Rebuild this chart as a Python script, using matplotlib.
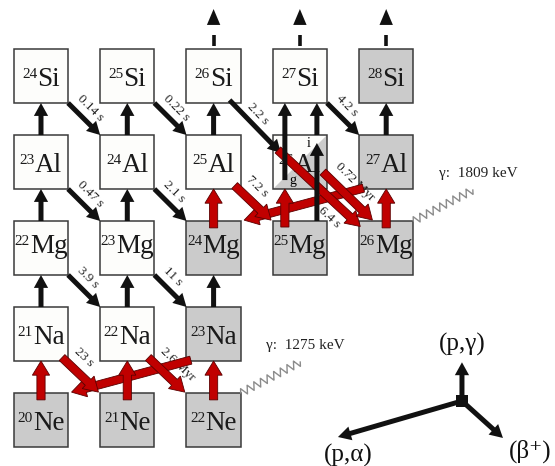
import matplotlib.pyplot as plt
import numpy as np
from matplotlib.patches import Rectangle, Polygon

plt.rcParams['font.family'] = ['Liberation Serif', 'DejaVu Serif']

# ---- chart content ----
elements = ["Ne", "Na", "Mg", "Al", "Si"]
charges = [10, 11, 12, 13, 14]
ne_mass = [20, 21, 22]
na_mass = [21, 22, 23]
mg_mass = [22, 23, 24, 25, 26]
al_mass = [23, 24, 25, 26, 27]
si_mass = [24, 25, 26, 27, 28]
masses = [ne_mass, na_mass, mg_mass, al_mass, si_mass]
stable = ["20Ne", "21Ne", "22Ne", "23Na", "24Mg", "25Mg", "26Mg", "27Al", "28Si"]

# (p,gamma) captures, named by target nucleus
pg_black = ["21Na", "22Na", "23Na", "22Mg", "23Mg", "23Al", "24Al", "25Al", "27Al"]
pg_red = ["20Ne", "21Ne", "22Ne", "24Mg", "26Mg"]
pg_open = ["26Si", "27Si", "28Si"]  # leaving the chart (dashed)

# beta+ decays and half-lives
beta_black = ["24Si", "25Si", "27Si", "23Al", "24Al", "22Mg", "23Mg"]
beta_black_t = ["0.14 s", "0.22 s", "4.2 s", "0.47 s", "2.1 s", "3.9 s", "11 s"]
beta_red = ["21Na", "22Na", "25Al"]
beta_red_t = ["23 s", "2.6 Myr", "7.2 s"]

# (p,alpha) closing the NeNa and MgAl cycles
pa_red = ["23Na", "27Al"]

# 26Al: ground state g and isomer i
al26_g_t = "0.72 Myr"
al26_i_t = "6.4 s"
si26_t = "2.2 s"

gamma_src = ["22Ne", "26Mg"]
gamma_kev = [1275, 1809]

legend_labels = ["(p,γ)", "(p,α)", "(β\u207a)"]

# ---- helpers ----
H = 0.314  # half box size (cell = 1)
BLACK = dict(width=0.058, head_width=0.165, head_length=0.15,
             length_includes_head=True, fc='#111111', ec='#111111', lw=0)
RED = dict(width=0.095, head_width=0.2, head_length=0.165,
           length_includes_head=True, fc='#c00000', ec='#5a0000', lw=0.6)


def nz(name):
    a = int(name[:-2])
    z = charges[elements.index(name[-2:])]
    return a - z, z


def arrow(p0, p1, style, z=4):
    ax.arrow(p0[0], p0[1], p1[0] - p0[0], p1[1] - p0[1], zorder=z, **style)


def tag(p0, p1, txt, along, perp, va='bottom'):
    p0 = np.array(p0, float)
    d = np.array(p1, float) - p0
    u = d / np.hypot(*d)
    n = np.array([-u[1], u[0]])
    pos = p0 + along * u + perp * n
    ang = np.degrees(np.arctan2(u[1], u[0]))
    ax.text(pos[0], pos[1], txt, fontsize=9.5, rotation=ang, rotation_mode='anchor',
            ha='left', va=va, color='#222222', zorder=3)


fig = plt.figure(figsize=(5.55, 4.66), dpi=100)
ax = fig.add_axes([0, 0, 1, 1])
ax.set_xlim(9.525, 15.956)
ax.set_ylim(9.465, 14.884)
ax.axis('off')

# ---- boxes ----
for el, z, alist in zip(elements, charges, masses):
    for a in alist:
        name = f"{a}{el}"
        n = a - z
        if name == "26Al":
            ax.add_patch(Polygon([(n - H, z + H), (n + H, z + H), (n - H, z - H)],
                                 fc='#fdfdfb', ec='none', zorder=1))
            ax.add_patch(Polygon([(n + H, z + H), (n + H, z - H), (n - H, z - H)],
                                 fc='#cbcbcb', ec='none', zorder=1))
            ax.add_patch(Rectangle((n - H, z - H), 2 * H, 2 * H, fc='none',
                                   ec='#3a3a3a', lw=1.1, zorder=1.5))
        else:
            fc = '#cbcbcb' if name in stable else '#fdfdfb'
            ax.add_patch(Rectangle((n - H, z - H), 2 * H, 2 * H, fc=fc,
                                   ec='#3a3a3a', lw=1.1, zorder=1))

# nuclide labels: superscript mass number + symbol, centred in the box
fig.canvas.draw()
rend = fig.canvas.get_renderer()
ppu = ax.transData.transform((1, 0))[0] - ax.transData.transform((0, 0))[0]
for el, z, alist in zip(elements, charges, masses):
    for a in alist:
        n = a - z
        base = z - (0.06 if 'g' in el else 0.12)
        ts = ax.text(n, base + 0.1, str(a), fontsize=11, ha='left', va='baseline',
                     color='#1a1a1a', zorder=2)
        te = ax.text(n, base, el, fontsize=19.5, ha='left', va='baseline',
                     color='#1a1a1a', zorder=2)
        ws = ts.get_window_extent(rend).width / ppu
        we = te.get_window_extent(rend).width / ppu
        x0 = n - (ws + we) / 2
        ts.set_x(x0)
        te.set_x(x0 + ws)

n26, z26 = nz("26Al")
ax.text(n26 + 0.1, z26 + 0.21, "i", fontsize=10, ha='center', va='center', zorder=2)
ax.text(n26 - 0.08, z26 - 0.21, "g", fontsize=10, ha='center', va='center', zorder=2)

# ---- (p,gamma) ----
for name in pg_black:
    n, z = nz(name)
    arrow((n, z + H), (n, z + 1 - H), BLACK)
for name in pg_red:
    n, z = nz(name)
    arrow((n, z + H - 0.08), (n, z + 1 - H), RED, z=5.5)
for name in pg_open:
    n, z = nz(name)
    ax.plot([n, n], [z + H + 0.035, z + H + 0.16], color='#111111', lw=2.6,
            solid_capstyle='butt', zorder=4)
    arrow((n, z + H + 0.28), (n, z + H + 0.465),
          dict(BLACK, width=0.001, head_length=0.185, head_width=0.155))

# ---- beta+ ----
for name, t in zip(beta_black, beta_black_t):
    n, z = nz(name)
    p0, p1 = (n + H, z - H), (n + 1 - H, z - 1 + H)
    arrow(p0, p1, BLACK)
    tag(p0, p1, t, 0.04, 0.065)
for name, t in zip(beta_red, beta_red_t):
    n, z = nz(name)
    p0, p1 = (n + H - 0.07, z - H + 0.04), (n + 1 - H - 0.02, z - 1 + H + 0.01)
    arrow(p0, p1, RED, z=5)
    tag(p0, p1, t, 0.05, 0.11)

# ---- (p,alpha) ----
for name in pa_red:
    n, z = nz(name)
    p0, p1 = (n - H + 0.05, z - H + 0.01), (n - 2 + H + 0.04, z - 1 + H + 0.01)
    arrow(p0, p1, RED, z=4.5)

# ---- 26Al branch ----
n, z = nz("26Si")
p0, p1 = (n + 0.185, z - 0.28), (n26 - 0.22, z26 + 0.105)
arrow(p0, p1, BLACK)
tag(p0, p1, si26_t, 0.2, 0.06)

arrow((n26 - 0.174, z26 - 1 + H - 0.07), (n26 - 0.174, z26 - H), RED, z=5.5)
arrow((n26 + 0.197, z26 - 1 + H), (n26 + 0.197, z26 + 0.221), BLACK, z=6)
arrow((n26 - 0.174, z26 - 0.21), (n26 - 0.174, z26 + 1 - H), BLACK, z=6)
arrow((n26 + 0.197, z26 + H), (n26 + 0.197, z26 + 1 - H), BLACK, z=6)

nm, zm = nz("26Mg")
p0, p1 = (n26 - 0.255, z26 + 0.14), (nm - 0.3, zm + 0.25)
arrow(p0, p1, RED, z=5)
tag(p0, p1, al26_i_t, 0.82, -0.1, va='top')
p0, p1 = (n26 + 0.267, z26 - 0.116), (nm - 0.16, zm + 0.325)
arrow(p0, p1, RED, z=5)
tag(p0, p1, al26_g_t, 0.06, 0.11)

# ---- gamma lines ----
for name, e in zip(gamma_src, gamma_kev):
    n, z = nz(name)
    p0 = np.array([n + H, z + H])
    d = np.array([0.69, 0.36])
    u = d / np.hypot(*d)
    nrm = np.array([-u[1], u[0]])
    t = np.linspace(0, 1, 600)
    w = 0.046 * (2 / np.pi) * np.arcsin(np.sin(2 * np.pi * 9 * t))
    xy = p0 + t[:, None] * d + w[:, None] * nrm
    ax.plot(xy[:, 0], xy[:, 1], color='#8c8c8c', lw=1.0, zorder=2)
    ax.text(n + 0.61, z + 0.87, f"γ:  {e} keV", fontsize=11,
            ha='left', va='center', color='#222222', zorder=2)

# ---- key ----
c = np.array([14.878, 10.221])
ax.add_patch(Rectangle(c - 0.07, 0.14, 0.14, fc='#111111', ec='none', zorder=4))
arrow(c, c + (0, 0.45), BLACK)
arrow(c, c + (-1.437, -0.419), BLACK)
arrow(c, c + (0.475, -0.43), BLACK)
offs = [(0, 0.66), (-1.323, -0.63), (0.793, -0.59)]
for lab, o in zip(legend_labels, offs):
    ax.text(c[0] + o[0], c[1] + o[1], lab, fontsize=18, ha='center', va='center',
            color='#111111')

fig.savefig('out.png', dpi=100)
